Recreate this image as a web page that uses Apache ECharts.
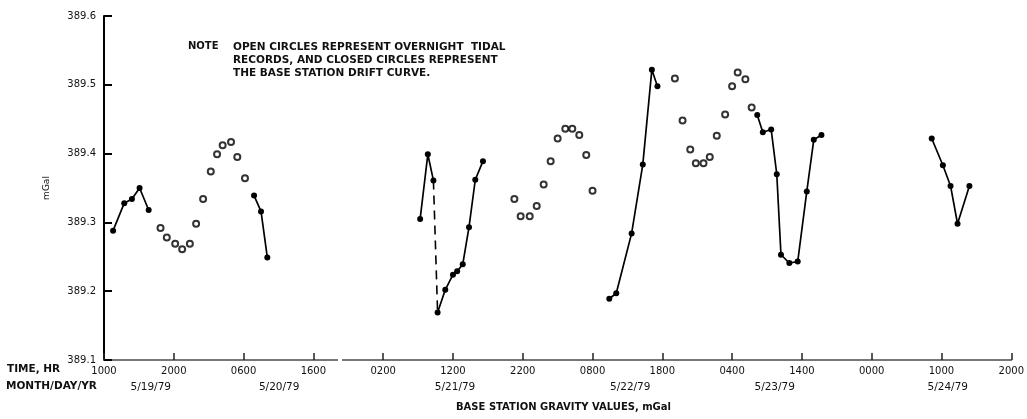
<!DOCTYPE html>
<html><head><meta charset="utf-8">
<script src="https://cdn.jsdelivr.net/npm/echarts@6/dist/echarts.min.js"></script>
<style>html,body{margin:0;padding:0;background:#fff}#c{width:1027px;height:419px}</style>
</head><body><div id="c"></div>
<script>
// hours elapsed since 5/19/79 1000
const tideHours1 = [8.1, 9.0, 10.2, 11.2, 12.3, 13.2, 14.2, 15.3, 16.2, 17.0, 18.2, 19.1, 20.2];
const tideValues1 = [389.292, 389.278, 389.269, 389.261, 389.269, 389.298, 389.334, 389.374, 389.399, 389.412, 389.417, 389.395, 389.364];
const tideHours2 = [58.8, 59.7, 61.0, 62.0, 63.0, 64.0, 65.0, 66.1, 67.1, 68.1, 69.1, 70.0];
const tideValues2 = [389.334, 389.309, 389.309, 389.324, 389.355, 389.389, 389.422, 389.436, 389.436, 389.427, 389.398, 389.346];
const tideHours3 = [81.8, 82.9, 84.0, 84.8, 85.9, 86.8, 87.8, 89.0, 90.0, 90.8, 91.9, 92.8];
const tideValues3 = [389.509, 389.448, 389.406, 389.386, 389.386, 389.395, 389.426, 389.457, 389.498, 389.518, 389.508, 389.467];

const driftHours1 = [1.3, 2.9, 4.0, 5.1, 6.4];
const driftValues1 = [389.288, 389.328, 389.334, 389.350, 389.318];
const driftHours2 = [21.5, 22.5, 23.4];
const driftValues2 = [389.339, 389.316, 389.249];
const driftHours3 = [45.3, 46.4, 47.2];
const driftValues3 = [389.305, 389.399, 389.361];
const gapHours = [47.2, 47.8];
const gapValues = [389.361, 389.169];
const driftHours4 = [47.8, 48.9, 50.0, 50.6, 51.4, 52.3, 53.2, 54.3];
const driftValues4 = [389.169, 389.202, 389.224, 389.229, 389.239, 389.293, 389.362, 389.389];
const driftHours5 = [72.4, 73.4, 75.6, 77.2, 78.5, 79.3];
const driftValues5 = [389.189, 389.197, 389.284, 389.384, 389.522, 389.498];
const driftHours6 = [93.6, 94.4, 95.6, 96.4, 97.0, 98.2, 99.4, 100.7, 101.7, 102.8];
const driftValues6 = [389.456, 389.431, 389.435, 389.370, 389.253, 389.241, 389.243, 389.345, 389.420, 389.427];
const driftHours7 = [118.6, 120.2, 121.3, 122.3, 124.0];
const driftValues7 = [389.422, 389.383, 389.353, 389.298, 389.353];

const startClock = 10; // 1000 hr on first day
const dateLabels = ['5/19/79', '5/20/79', '5/21/79', '5/22/79', '5/23/79', '5/24/79'];
const dateLabelHours = [6.7, 25.1, 50.3, 75.4, 96.1, 120.9];
const noteLines = ['OPEN CIRCLES REPRESENT OVERNIGHT  TIDAL', 'RECORDS, AND CLOSED CIRCLES REPRESENT', 'THE BASE STATION DRIFT CURVE.'];

const pair = (h, v) => h.map((x, i) => [x, v[i]]);
const FONT = 'DejaVu Sans';
const INK = '#111';

function drift(h, v) {
  return { type: 'line', xAxisIndex: 0, data: pair(h, v), symbol: 'circle', symbolSize: 6,
    itemStyle: { color: '#000' }, lineStyle: { color: '#000', width: 1.7 }, animation: false, z: 3 };
}
function tide(h, v) {
  return { type: 'scatter', xAxisIndex: 0, data: pair(h, v), symbol: 'emptyCircle', symbolSize: 6,
    itemStyle: { color: '#000', borderWidth: 1.5 }, animation: false, z: 3 };
}

const chart = echarts.init(document.getElementById('c'), null, { renderer: 'canvas' });
chart.setOption({
  backgroundColor: '#fff',
  animation: false,
  grid: { left: 104, right: 13, top: 16, bottom: 59, containLabel: false },
  xAxis: [{
    type: 'value', min: 0, max: 130, interval: 10,
    axisLine: { lineStyle: { color: '#777', width: 2 } },
    axisTick: { inside: true, length: 7, lineStyle: { color: '#222', width: 1.5 } },
    axisLabel: { margin: 6, fontFamily: FONT, fontSize: 10, color: INK,
      formatter: v => String((startClock + v) % 24).padStart(2, '0') + '00' },
    splitLine: { show: false }
  }, {
    type: 'value', min: 0, max: 130, position: 'bottom',
    axisLine: { show: false }, axisTick: { show: false }, splitLine: { show: false },
    axisLabel: { margin: 22, fontFamily: FONT, fontSize: 10.5, color: INK,
      customValues: dateLabelHours,
      formatter: v => { const i = dateLabelHours.indexOf(v); return i >= 0 ? dateLabels[i] : ''; } }
  }],
  yAxis: {
    type: 'value', min: 389.1, max: 389.6, interval: 0.1,
    name: 'mGal', nameLocation: 'middle', nameGap: 53, nameRotate: 90,
    nameTextStyle: { fontFamily: FONT, fontSize: 9, color: INK },
    axisLine: { show: true, lineStyle: { color: '#000', width: 2 } },
    axisTick: { show: true, inside: true, length: 8, lineStyle: { color: '#000', width: 2 } },
    axisLabel: { margin: 8, fontFamily: FONT, fontSize: 10, color: INK, formatter: v => v.toFixed(1) },
    splitLine: { show: false }
  },
  series: [
    tide(tideHours1, tideValues1), tide(tideHours2, tideValues2), tide(tideHours3, tideValues3),
    drift(driftHours1, driftValues1), drift(driftHours2, driftValues2), drift(driftHours3, driftValues3),
    { type: 'line', data: pair(gapHours, gapValues), symbol: 'none',
      lineStyle: { color: '#000', width: 1.6, type: [9, 6] }, animation: false, z: 2 },
    drift(driftHours4, driftValues4), drift(driftHours5, driftValues5), drift(driftHours6, driftValues6),
    drift(driftHours7, driftValues7)
  ],
  graphic: [
    { type: 'text', left: 188, top: 41, style: { text: 'NOTE', font: 'bold 10px "DejaVu Sans"', fill: INK } },
    { type: 'text', left: 233, top: 41, style: { text: noteLines.join('\n'), font: 'bold 10.5px "DejaVu Sans"', lineHeight: 13, fill: INK } },
    { type: 'text', left: 7, top: 364, style: { text: 'TIME, HR', font: 'bold 10.5px "DejaVu Sans"', fill: INK } },
    { type: 'text', left: 6, top: 381, style: { text: 'MONTH/DAY/YR', font: 'bold 10.5px "DejaVu Sans"', fill: INK } },
    { type: 'text', left: 456, top: 402, style: { text: 'BASE STATION GRAVITY VALUES, mGal', font: 'bold 10px "DejaVu Sans"', fill: INK } },
    { type: 'rect', shape: { x: 338, y: 356, width: 4, height: 7 }, style: { fill: '#fff' }, z: 100 }
  ]
});
</script></body></html>
